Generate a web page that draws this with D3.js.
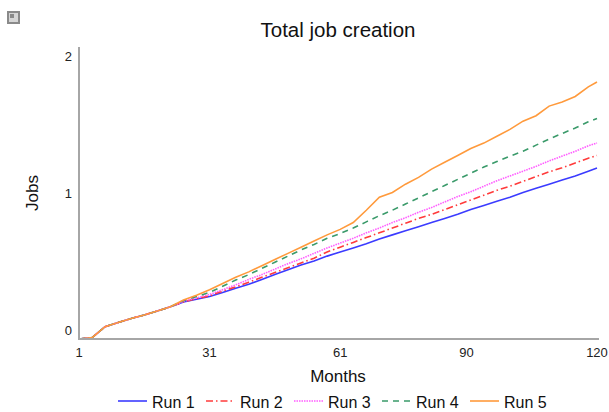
<!DOCTYPE html>
<html>
<head>
<meta charset="utf-8">
<script src="https://cdn.jsdelivr.net/npm/d3@7"></script>
<style>
  body { margin: 0; background: #fff; }
  svg { display: block; font-family: "Liberation Sans", Arial, sans-serif; }
</style>
</head>
<body>
<div id="canvas"></div>
<script>
// months sampled every 3 months
var months = [1, 4, 7, 10, 13, 16, 19, 22, 25, 28, 31, 34, 37, 40, 43, 46, 49, 52, 55, 58,
    61, 64, 67, 70, 73, 76, 79, 82, 85, 88, 91, 94, 97, 100, 103, 106, 109, 112, 115, 118, 120];

var run1 = [0, 0.01, 0.09, 0.12, 0.15, 0.175, 0.205, 0.235, 0.27, 0.29, 0.31, 0.34, 0.37, 0.40, 0.435, 0.47, 0.505, 0.54, 0.57, 0.605,
    0.635, 0.665, 0.695, 0.73, 0.76, 0.79, 0.82, 0.85, 0.88, 0.91, 0.945, 0.975, 1.005, 1.035, 1.07, 1.10, 1.13, 1.16, 1.19, 1.225, 1.248];
var run2 = [0, 0.01, 0.09, 0.12, 0.15, 0.175, 0.205, 0.235, 0.27, 0.295, 0.315, 0.35, 0.38, 0.415, 0.45, 0.485, 0.52, 0.555, 0.59, 0.635,
    0.67, 0.705, 0.74, 0.775, 0.81, 0.845, 0.88, 0.91, 0.945, 0.98, 1.015, 1.05, 1.085, 1.115, 1.15, 1.185, 1.22, 1.25, 1.285, 1.32, 1.34];
var run3 = [0, 0.01, 0.09, 0.12, 0.15, 0.175, 0.205, 0.235, 0.275, 0.30, 0.325, 0.36, 0.395, 0.435, 0.47, 0.51, 0.55, 0.585, 0.625, 0.665,
    0.70, 0.735, 0.775, 0.81, 0.85, 0.885, 0.925, 0.96, 1.0, 1.04, 1.075, 1.115, 1.155, 1.19, 1.225, 1.26, 1.30, 1.335, 1.37, 1.41, 1.43];
var run4 = [0, 0.01, 0.09, 0.12, 0.15, 0.175, 0.205, 0.235, 0.28, 0.31, 0.34, 0.385, 0.43, 0.47, 0.515, 0.56, 0.605, 0.65, 0.69, 0.735,
    0.77, 0.81, 0.855, 0.90, 0.94, 0.985, 1.03, 1.075, 1.12, 1.165, 1.21, 1.255, 1.295, 1.335, 1.37, 1.415, 1.46, 1.50, 1.54, 1.585, 1.61];
var run5 = [0, 0.01, 0.09, 0.12, 0.15, 0.175, 0.205, 0.235, 0.285, 0.32, 0.36, 0.405, 0.45, 0.49, 0.535, 0.58, 0.625, 0.67, 0.715, 0.76,
    0.80, 0.85, 0.94, 1.035, 1.07, 1.13, 1.18, 1.24, 1.29, 1.34, 1.39, 1.43, 1.48, 1.53, 1.59, 1.63, 1.70, 1.73, 1.77, 1.84, 1.876];

var seriesNames = ['Run 1', 'Run 2', 'Run 3', 'Run 4', 'Run 5'];
var xTicks = [1, 31, 61, 90, 120];
var yTicks = [0, 1, 2];

var svgWidth = 609;
var svgHeight = 412;
var colors = ['#3b3bff', '#ff3b3b', '#ff5cff', '#3a9a6a', '#ff9a3c'];
var dashes = [null, '7,3,1.5,3', '1.5,1', '6,5', null];

var svg = d3.select('#canvas')
    .append('svg')
    .attr('width', svgWidth)
    .attr('height', svgHeight);

var x = d3.scaleLinear().domain([1, 120]).range([79, 597]);
var y = d3.scaleLinear().domain([0, 2]).range([339, 65]);

// little icon top-left
svg.append('rect').attr('x', 7).attr('y', 11).attr('width', 13).attr('height', 13).attr('fill', '#8a8a8a');
svg.append('rect').attr('x', 9).attr('y', 13).attr('width', 9).attr('height', 9).attr('fill', '#d6d6d6');
svg.append('rect').attr('x', 10).attr('y', 14).attr('width', 4).attr('height', 4).attr('fill', '#8a8a8a');

// title
svg.append('text')
    .attr('x', 338)
    .attr('y', 37)
    .attr('text-anchor', 'middle')
    .attr('font-size', '20.5px')
    .attr('fill', '#111')
    .text('Total job creation');

// y axis line
svg.append('line')
    .attr('x1', 79).attr('x2', 79)
    .attr('y1', 47).attr('y2', 340)
    .attr('stroke', '#a6a6a6').attr('stroke-width', 2);

// tick labels
svg.selectAll('.ytick')
    .data(yTicks)
    .enter()
    .append('text')
    .attr('x', 72)
    .attr('y', function(d) { return y(d) - 4; })
    .attr('text-anchor', 'end')
    .attr('font-size', '13px')
    .attr('fill', '#222')
    .text(function(d) { return d; });

svg.selectAll('.xtick')
    .data(xTicks)
    .enter()
    .append('text')
    .attr('x', function(d) { return x(d); })
    .attr('y', 357)
    .attr('text-anchor', 'middle')
    .attr('font-size', '13px')
    .attr('fill', '#222')
    .text(function(d) { return d; });

// axis titles
svg.append('text')
    .attr('x', 338)
    .attr('y', 382)
    .attr('text-anchor', 'middle')
    .attr('font-size', '17px')
    .attr('fill', '#111')
    .text('Months');

svg.append('text')
    .attr('transform', 'translate(38,193) rotate(-90)')
    .attr('text-anchor', 'middle')
    .attr('font-size', '17px')
    .attr('fill', '#111')
    .text('Jobs');

// series
var allRuns = [run1, run2, run3, run4, run5];
var line = d3.line()
    .x(function(d, i) { return x(months[i]); })
    .y(function(d) { return y(d); });

allRuns.forEach(function(run, k) {
    var p = svg.append('path')
        .attr('d', line(run))
        .attr('fill', 'none')
        .attr('stroke', colors[k])
        .attr('stroke-width', 1.6);
    if (dashes[k]) p.attr('stroke-dasharray', dashes[k]);
});

// x axis line drawn over the flat start
svg.append('line')
    .attr('x1', 78).attr('x2', 599)
    .attr('y1', 339).attr('y2', 339)
    .attr('stroke', '#a6a6a6').attr('stroke-width', 2);

// legend
var legendX = [118, 206, 294, 382, 470];
seriesNames.forEach(function(name, k) {
    var l = svg.append('line')
        .attr('x1', legendX[k]).attr('x2', legendX[k] + 29)
        .attr('y1', 401).attr('y2', 401)
        .attr('stroke', colors[k])
        .attr('stroke-width', 1.6);
    if (dashes[k]) l.attr('stroke-dasharray', dashes[k]);
    svg.append('text')
        .attr('x', legendX[k] + 34)
        .attr('y', 408)
        .attr('font-size', '16px')
        .attr('fill', '#111')
        .text(name);
});
</script>
</body>
</html>
